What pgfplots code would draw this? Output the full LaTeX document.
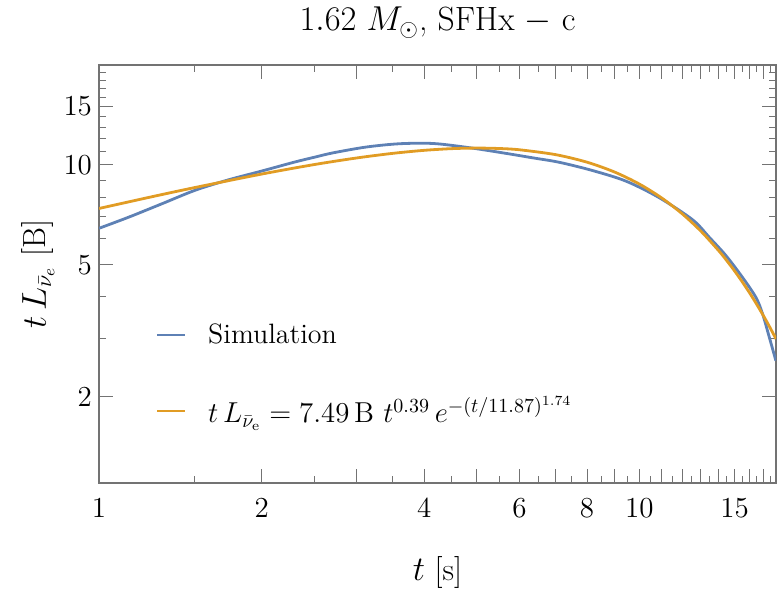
\documentclass[border=0pt]{standalone}
\usepackage{pgfplots}
\pgfplotsset{compat=1.18}
\usetikzlibrary{calc}
\definecolor{mmablue}{rgb}{0.368417,0.506779,0.709798}
\definecolor{mmaorange}{rgb}{0.880722,0.611041,0.142051}
\definecolor{framegray}{gray}{0.45}

\begin{document}
\begin{tikzpicture}
\begin{axis}[
  scale only axis, width=338.5pt, height=209pt,
  xmode=log, ymode=log,
  xmin=1, xmax=17.9, ymin=1.1, ymax=20,
  xtick={1,...,17}, xticklabels={1,2,,4,,6,,8,,10,,,,,15,,},
  minor xtick={1.5,2.5,3.5,4.5,5.5,6.5,7.5,8.5,9.5,10.5,11.5,12.5,13.5,14.5,15.5,16.5,17.5},
  ytick={2,5,10,15}, yticklabels={2,5,10,15},
  minor ytick={3,4,6,7,8,9,11,12,13,14,16,17,18,19},
  tick align=inside, tick pos=both,
  major tick length=7pt, minor tick length=3.5pt,
  every tick/.style={framegray, line width=0.5pt},
  axis line style={framegray, line width=0.6pt},
  tick label style={font=\fontsize{14.5}{17}\selectfont},
  x tick label style={yshift=-4pt},
  xlabel={$t$ [s]}, ylabel={$t\,L_{\bar{\nu}_e}$ [B]},
  label style={font=\fontsize{16}{19}\selectfont},
  xlabel style={at={(axis description cs:0.5,-0.213)}, anchor=center},
  ylabel style={at={(axis description cs:-0.09,0.5)}, anchor=center},
  every axis title shift=0pt,
  title={$1.62\ M_{\odot}$, SFHx $-$ c},
  title style={font=\fontsize{16.8}{19}\selectfont, at={(axis description cs:0.5,1.101)}, anchor=center},
  legend style={at={(axis description cs:0.075,0.259)}, anchor=west, draw=none, fill=none,
                font=\fontsize{14}{17}\selectfont, row sep=21pt, column sep=9pt},
  legend cell align=left,
  legend image code/.code={\draw[#1, line width=1pt] (0pt,0pt) -- (14pt,0pt);},
]
\addplot[mmablue, line width=1.4pt, smooth] coordinates {
(1.000,6.44) (1.133,6.95) (1.306,7.63) (1.505,8.38) (1.734,9.01) (2.000,9.58)
(2.303,10.20) (2.507,10.55) (2.711,10.87) (3.125,11.32) (3.601,11.58) (4.150,11.60)
(4.783,11.30) (5.510,10.91) (6.350,10.50) (7.110,10.18) (8.200,9.61) (9.450,8.93)
(10.89,7.96) (12.55,6.83) (13.47,6.05) (14.46,5.33) (15.52,4.58) (16.43,3.99)
(16.90,3.56) (17.39,3.03) (17.89,2.57)
};
\addplot[mmaorange, line width=1.4pt, smooth] coordinates {
(1.00,7.390) (1.25,8.010) (1.50,8.536) (2.00,9.382) (2.50,10.019) (3.00,10.493)
(3.50,10.834) (4.00,11.063) (4.50,11.193) (5.00,11.236) (5.50,11.203) (6.00,11.104)
(7.00,10.735) (8.00,10.188) (9.00,9.513) (10.0,8.754) (11.0,7.947) (12.0,7.124)
(13.0,6.312) (14.0,5.529) (14.5,5.154) (15.0,4.792) (15.5,4.444) (16.0,4.111)
(16.5,3.793) (17.0,3.491) (17.4,3.261) (17.9,2.989)
};
\legend{Simulation, $t\,L_{\bar{\nu}_{\mathrm{e}}} = 7.49\,\mathrm{B}\ t^{0.39}\, e^{-(t/11.87)^{1.74}}$}
\coordinate (bl) at (rel axis cs:0,0);
\coordinate (tr) at (rel axis cs:1,1);
\end{axis}
\pgfresetboundingbox
\path ($(bl)+(-49.5pt,-57pt)$) rectangle ($(tr)+(2.5pt,32.5pt)$);
\end{tikzpicture}
\end{document}
